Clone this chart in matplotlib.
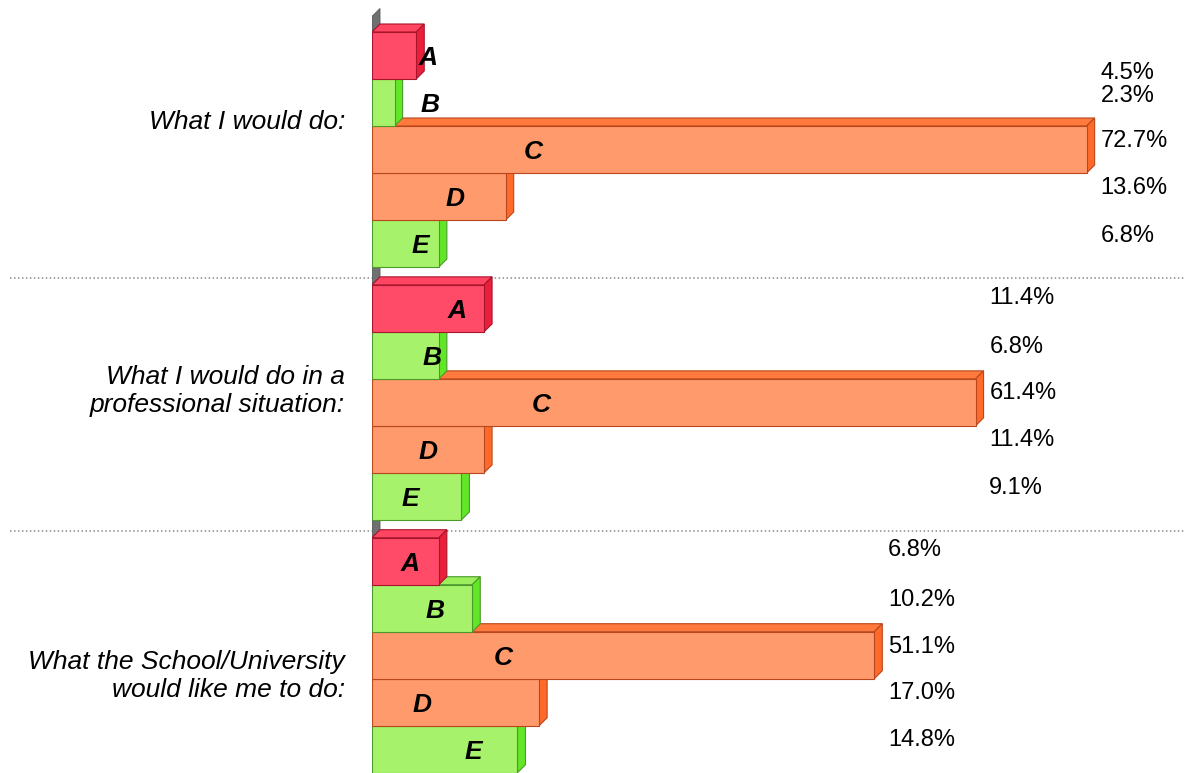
import matplotlib.pyplot as plt
from matplotlib.patches import Polygon

plt.rcParams['font.family'] = ['Liberation Sans', 'DejaVu Sans']

groups = ['What I would do:',
          'What I would do in a\nprofessional situation:',
          'What the School/University\nwould like me to do:']
letters = ['A', 'B', 'C', 'D', 'E']
values = [[4.5, 2.3, 72.7, 13.6, 6.8],
          [11.4, 6.8, 61.4, 11.4, 9.1],
          [6.8, 10.2, 51.1, 17.0, 14.8]]
pct_text = [['4.5%', '2.3%', '72.7%', '13.6%', '6.8%'],
            ['11.4%', '6.8%', '61.4%', '11.4%', '9.1%'],
            ['6.8%', '10.2%', '51.1%', '17.0%', '14.8%']]

# where the letter sits along each bar (in % units)
letter_x = [[5.7, 5.9, 16.4, 8.4, 4.9],
            [8.7, 6.1, 17.2, 5.7, 3.9],
            [3.9, 6.4, 13.3, 5.1, 10.3]]
# vertical offsets of the value labels inside each group (bar units)
pct_y = [[0.87, 1.36, 2.32, 3.32, 4.34],
         [0.28, 1.32, 2.30, 3.30, 4.32],
         [0.26, 1.32, 2.32, 3.30, 4.30]]
group_label_y = [1.92, 2.26, 2.94]

# front, top, side, edge
col = {'A': ('#ff4b68', '#ff4561', '#e8203c', '#a8142c'),
       'B': ('#a6f26a', '#9cee5c', '#62e628', '#4c9a2c'),
       'C': ('#ff9a6c', '#ff7a3c', '#ff6a2a', '#b8481c'),
       'D': ('#ff9a6c', '#ff7a3c', '#ff6a2a', '#b8481c'),
       'E': ('#a6f26a', '#9cee5c', '#62e628', '#4c9a2c')}

W, H = 1185, 773
x0px = 372
pxper = 9.83          # px per percent
bar_px = 47.0
stride = 5.38         # group spacing in bar units
dx = 8 / pxper
dy = 8 / bar_px

fig = plt.figure(figsize=(W / 100, H / 100), dpi=100)
ax = fig.add_axes([x0px / W, 0, 1 - x0px / W, 1])
ax.set_xlim(0, (W - x0px) / pxper)
top_off = 32 / bar_px
ax.set_ylim(H / bar_px - top_off, -top_off)
ax.axis('off')

# axis line
ax.plot([0, 0], [-0.33, H / bar_px - top_off], color='#8a8a8a', lw=1.2, zorder=1)

xl = -x0px / pxper + 10 / pxper
for g in range(1, 3):
    yl = g * stride - 0.15
    ax.plot([xl, (W - x0px) / pxper], [yl, yl], color='#8a8a8a', lw=1.1,
            linestyle=(0, (1, 1.6)), clip_on=False, zorder=1)

for g, vals in enumerate(values):
    g0 = g * stride
    # grey wall tab
    ax.add_patch(Polygon([(0, g0), (0, g0 - 0.33), (dx, g0 - dy - 0.33), (dx, g0 - dy)],
                         closed=True, facecolor='#707070', edgecolor='#555555', lw=0.6, zorder=2))
    for i in reversed(range(5)):
        v = vals[i]
        t = g0 + i
        b = t + 1
        fc, tc, sc, ec = col[letters[i]]
        z = 3 + (5 - i) * 0.1
        ax.add_patch(Polygon([(0, t), (v, t), (v + dx, t - dy), (dx, t - dy)],
                             closed=True, facecolor=tc, edgecolor=ec, lw=0.8, zorder=z))
        ax.add_patch(Polygon([(v, t), (v + dx, t - dy), (v + dx, b - dy), (v, b)],
                             closed=True, facecolor=sc, edgecolor=ec, lw=0.8, zorder=z))
        ax.add_patch(Polygon([(0, t), (v, t), (v, b), (0, b)],
                             closed=True, facecolor=fc, edgecolor=ec, lw=0.8, zorder=z))
        ax.text(letter_x[g][i], t + 0.55, letters[i], fontsize=19, fontweight='bold',
                fontstyle='italic', ha='center', va='center', zorder=10)
        ax.text(max(vals) + 1.4, g0 + pct_y[g][i], pct_text[g][i], fontsize=17,
                ha='left', va='center', zorder=10)
    ax.text(-2.75, g0 + group_label_y[g], groups[g], fontsize=19, fontstyle='italic',
            ha='right', va='center', linespacing=1.22, clip_on=False)

fig.savefig('out.png', dpi=100)
